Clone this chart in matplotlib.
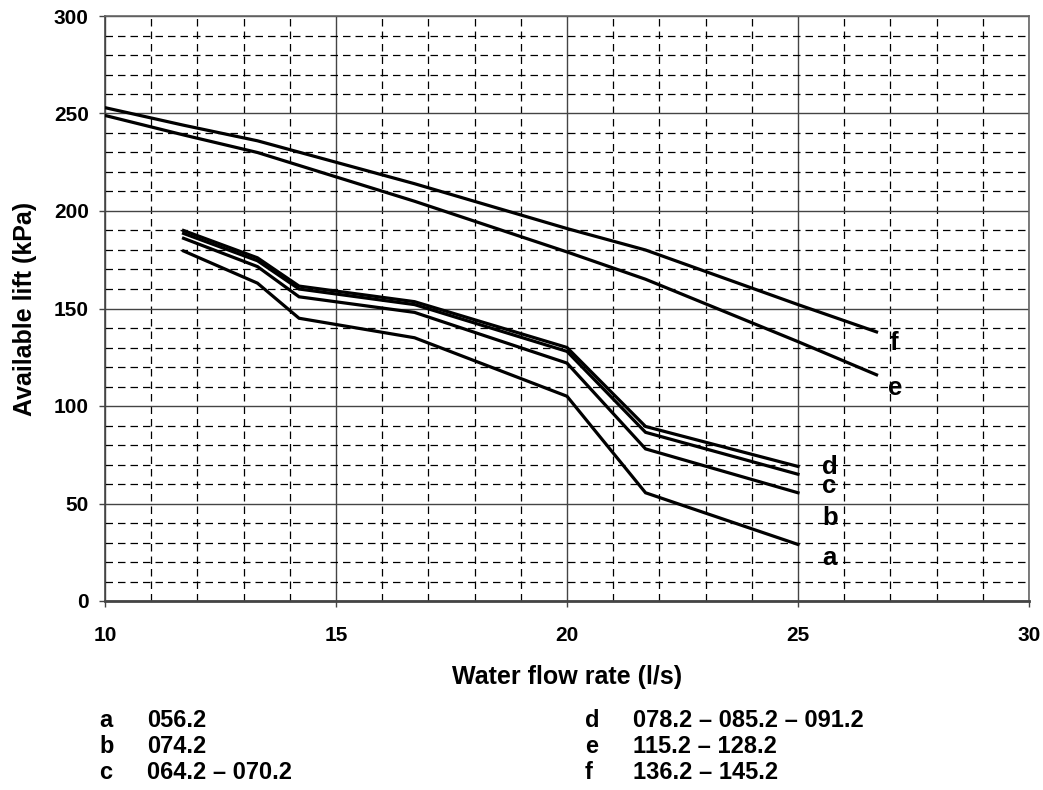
import matplotlib
matplotlib.use("Agg")
import matplotlib.pyplot as plt
from matplotlib.ticker import MultipleLocator

plt.rcParams['font.family'] = ['Liberation Sans', 'DejaVu Sans']
plt.rcParams['font.weight'] = 'bold'
plt.rcParams['xtick.labelsize'] = 15
plt.rcParams['ytick.labelsize'] = 15

# Data
x_ef = [10, 11.7, 13.3, 16.7, 20, 21.7, 25, 26.7]
f_vals = [253, 244, 236, 214, 191, 180, 152, 138]
e_vals = [249, 239, 230, 205, 179, 165, 133, 116]

x_low = [11.7, 13.3, 14.2, 16.7, 20, 21.7, 25]
d_vals = [190, 176, 161.5, 153.5, 130, 89.5, 69]
c_vals = [188.5, 174.5, 160, 152, 128, 86.5, 65]
b_vals = [186, 171.5, 156, 148, 122, 78, 55.5]
a_vals = [179.5, 163, 145, 135, 105, 55.5, 29]

curve_labels = ['a', 'b', 'c', 'd', 'e', 'f']
label_pos_x = [25.53, 25.53, 25.53, 25.53, 26.94, 26.99]
label_pos_y = [18.5, 39, 55.3, 65.2, 105.8, 128.9]

legend_keys_left = ['a', 'b', 'c']
legend_vals_left = ['056.2', '074.2', '064.2 – 070.2']
legend_keys_right = ['d', 'e', 'f']
legend_vals_right = ['078.2 – 085.2 – 091.2', '115.2 – 128.2', '136.2 – 145.2']

fig = plt.figure(figsize=(10.43, 7.90), dpi=100)
ax = fig.add_axes([105/1043, 1 - 601/790, (1029-105)/1043, (601-16)/790])

lw = 2.3
for xs, ys in [(x_ef, f_vals), (x_ef, e_vals), (x_low, d_vals), (x_low, c_vals),
               (x_low, b_vals), (x_low, a_vals)]:
    ax.plot(xs, ys, color='black', lw=lw, solid_joinstyle='miter', zorder=3)

for lab, lx, ly in zip(curve_labels, label_pos_x, label_pos_y):
    ax.text(lx, ly, lab, fontsize=18.5, fontweight='bold', ha='left', va='baseline', zorder=4)

ax.set_xlim(10, 30)
ax.set_ylim(0, 300)
ax.xaxis.set_major_locator(MultipleLocator(5))
ax.xaxis.set_minor_locator(MultipleLocator(1))
ax.yaxis.set_major_locator(MultipleLocator(50))
ax.yaxis.set_minor_locator(MultipleLocator(10))

ax.grid(which='major', color='#444444', lw=1.0, ls='-', zorder=1)
ax.grid(which='minor', color='black', lw=0.9, ls=(0, (6, 4)), zorder=1)
ax.tick_params(which='minor', length=0)
ax.tick_params(which='major', length=4.2, width=1, color='#444444', direction='out')
ax.tick_params(axis='x', which='major', pad=14)
ax.tick_params(axis='y', which='major', pad=7.5)

for side in ['top', 'right', 'left', 'bottom']:
    ax.spines[side].set_color('#666666')
    ax.spines[side].set_linewidth(1.2)
ax.spines['bottom'].set_linewidth(2)
ax.spines['bottom'].set_color('#444444')
ax.spines['left'].set_color('#444444')

ax.set_xlabel('Water flow rate (l/s)', fontsize=18, fontweight='bold', labelpad=14)
ax.set_ylabel('Available lift (kPa)', fontsize=18, fontweight='bold', labelpad=12)

row_base = [727, 753, 779]
for i in range(3):
    yy = 1 - row_base[i] / 790
    fig.text(99/1043, yy, legend_keys_left[i], fontsize=17, fontweight='bold', va='baseline')
    fig.text(147/1043, yy, legend_vals_left[i], fontsize=17, fontweight='bold', va='baseline')
    fig.text(585/1043, yy, legend_keys_right[i], fontsize=17, fontweight='bold', va='baseline')
    fig.text(633/1043, yy, legend_vals_right[i], fontsize=17, fontweight='bold', va='baseline')

fig.savefig('out.png', dpi=100)
